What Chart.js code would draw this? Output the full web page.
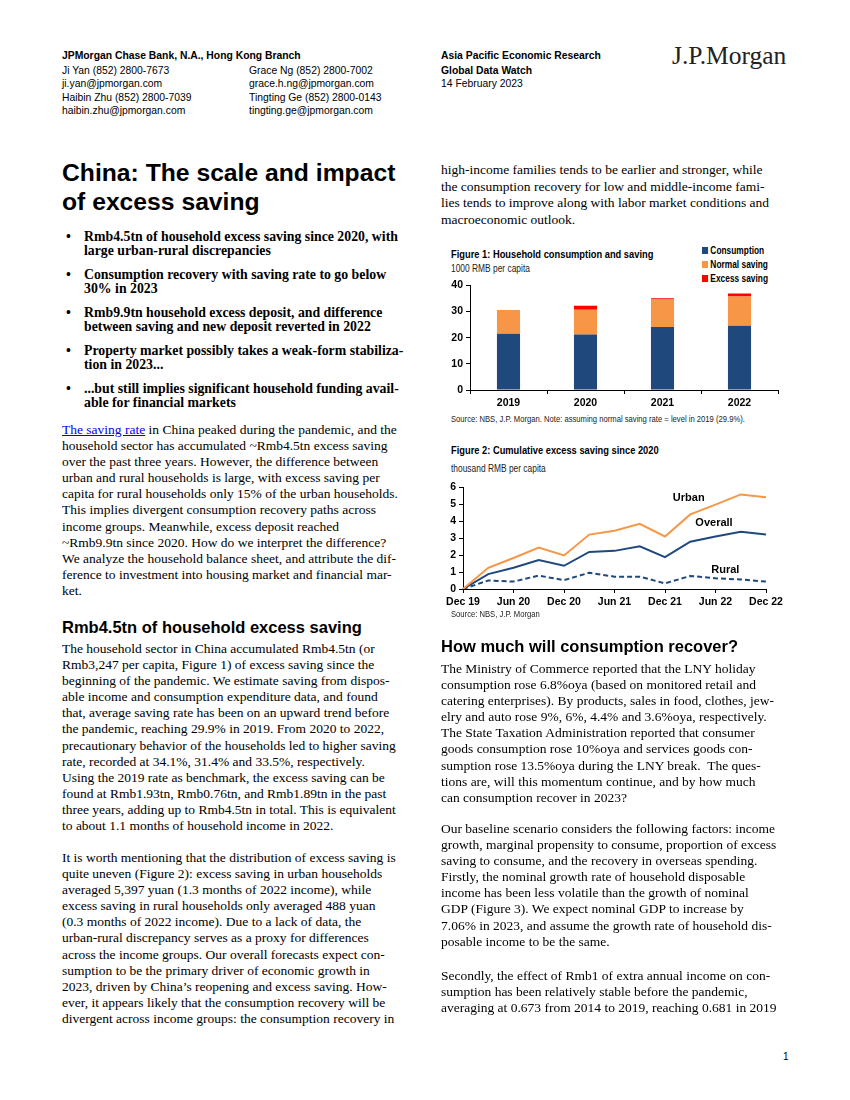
<!DOCTYPE html>
<html>
<head>
<meta charset="utf-8">
<script src="https://cdn.jsdelivr.net/npm/chart.js@4.4.1/dist/chart.umd.min.js"></script>
<style>
  body { margin: 0; width: 850px; height: 1100px; background: #fff; position: relative; overflow: hidden;
         font-family: "Liberation Serif", "Times New Roman", serif; color: #000; }
  .a { position: absolute; white-space: nowrap; }
  .sans { font-family: "Liberation Sans", Arial, sans-serif; transform-origin: 0 0; }
  .hd { font-size: 11.5px; line-height: 13px; transform: scaleX(0.9); }
  .b { font-weight: bold; }
  .title { font-family: "Liberation Sans", Arial, sans-serif; font-weight: bold; font-size: 24.7px; line-height: 28.5px; }
  .bul { font-weight: bold; font-size: 13.8px; line-height: 14.4px; }
  .bul span.dot { position: absolute; left: -18px; }
  .p { font-size: 13.5px; line-height: 16.1px; }
  .h2 { font-family: "Liberation Sans", Arial, sans-serif; font-weight: bold; font-size: 16.5px; line-height: 20px; }
  .ftitle { font-weight: bold; font-size: 11.5px; line-height: 14px; transform: scaleX(0.81); }
  .fsub { font-size: 10.5px; line-height: 13px; color: #222; transform: scaleX(0.8); }
  .src { font-size: 9px; line-height: 11px; color: #222; transform: scaleX(0.85); }
  a { color: #0000ee; }
  .chartbox { position: absolute; }
  #legend1 { position: absolute; left: 702px; top: 243px; font-weight: bold; font-size: 11px; line-height: 14px; transform: scaleX(0.76); }
  #legend1 div { white-space: nowrap; }
  #legend1 i { display: inline-block; width: 8px; height: 7px; margin-right: 3px; vertical-align: 0px; }
</style>
</head>
<body>

<!-- header -->
<div class="a sans hd b" style="left:62px;top:49px">JPMorgan Chase Bank, N.A., Hong Kong Branch</div>
<div class="a sans hd" style="left:62px;top:64px">Ji Yan (852) 2800-7673</div>
<div class="a sans hd" style="left:62px;top:77px">ji.yan@jpmorgan.com</div>
<div class="a sans hd" style="left:62px;top:91px">Haibin Zhu (852) 2800-7039</div>
<div class="a sans hd" style="left:62px;top:104px">haibin.zhu@jpmorgan.com</div>
<div class="a sans hd" style="left:249px;top:64px">Grace Ng (852) 2800-7002</div>
<div class="a sans hd" style="left:249px;top:77px">grace.h.ng@jpmorgan.com</div>
<div class="a sans hd" style="left:249px;top:91px">Tingting Ge (852) 2800-0143</div>
<div class="a sans hd" style="left:249px;top:104px">tingting.ge@jpmorgan.com</div>
<div class="a sans hd b" style="left:441px;top:49px">Asia Pacific Economic Research</div>
<div class="a sans hd b" style="left:441px;top:64px">Global Data Watch</div>
<div class="a sans hd" style="left:441px;top:77px">14 February 2023</div>
<div class="a" style="left:672px;top:41px;font-size:25.5px;line-height:30px;color:#222">J.P.Morgan</div>

<!-- left column -->
<div class="a title" style="left:62px;top:159px">China: The scale and impact<br>of excess saving</div>

<div class="a bul" style="left:84px;top:230px"><span class="dot">&#8226;</span>Rmb4.5tn of household excess saving since 2020, with<br>large urban-rural discrepancies</div>
<div class="a bul" style="left:84px;top:268px"><span class="dot">&#8226;</span>Consumption recovery with saving rate to go below<br>30% in 2023</div>
<div class="a bul" style="left:84px;top:306px"><span class="dot">&#8226;</span>Rmb9.9tn household excess deposit, and difference<br>between saving and new deposit reverted in 2022</div>
<div class="a bul" style="left:84px;top:344px"><span class="dot">&#8226;</span>Property market possibly takes a weak-form stabiliza-<br>tion in 2023...</div>
<div class="a bul" style="left:84px;top:382px"><span class="dot">&#8226;</span>...but still implies significant household funding avail-<br>able for financial markets</div>

<div class="a p" style="left:62px;top:422px"><a href="#">The saving rate</a> in China peaked during the pandemic, and the<br>household sector has accumulated ~Rmb4.5tn excess saving<br>over the past three years. However, the difference between<br>urban and rural households is large, with excess saving per<br>capita for rural households only 15% of the urban households.<br>This implies divergent consumption recovery paths across<br>income groups. Meanwhile, excess deposit reached<br>~Rmb9.9tn since 2020. How do we interpret the difference?<br>We analyze the household balance sheet, and attribute the dif-<br>ference to investment into housing market and financial mar-<br>ket.</div>

<div class="a h2" style="left:62px;top:617px">Rmb4.5tn of household excess saving</div>

<div class="a p" style="left:62px;top:641px">The household sector in China accumulated Rmb4.5tn (or<br>Rmb3,247 per capita, Figure 1) of excess saving since the<br>beginning of the pandemic. We estimate saving from dispos-<br>able income and consumption expenditure data, and found<br>that, average saving rate has been on an upward trend before<br>the pandemic, reaching 29.9% in 2019. From 2020 to 2022,<br>precautionary behavior of the households led to higher saving<br>rate, recorded at 34.1%, 31.4% and 33.5%, respectively.<br>Using the 2019 rate as benchmark, the excess saving can be<br>found at Rmb1.93tn, Rmb0.76tn, and Rmb1.89tn in the past<br>three years, adding up to Rmb4.5tn in total. This is equivalent<br>to about 1.1 months of household income in 2022.</div>

<div class="a p" style="left:62px;top:850px">It is worth mentioning that the distribution of excess saving is<br>quite uneven (Figure 2): excess saving in urban households<br>averaged 5,397 yuan (1.3 months of 2022 income), while<br>excess saving in rural households only averaged 488 yuan<br>(0.3 months of 2022 income). Due to a lack of data, the<br>urban-rural discrepancy serves as a proxy for differences<br>across the income groups. Our overall forecasts expect con-<br>sumption to be the primary driver of economic growth in<br>2023, driven by China&#8217;s reopening and excess saving. How-<br>ever, it appears likely that the consumption recovery will be<br>divergent across income groups: the consumption recovery in</div>

<!-- right column -->
<div class="a p" style="left:441px;top:162px;line-height:16.6px">high-income families tends to be earlier and stronger, while<br>the consumption recovery for low and middle-income fami-<br>lies tends to improve along with labor market conditions and<br>macroeconomic outlook.</div>

<div class="a sans ftitle" style="left:451px;top:247px">Figure 1: Household consumption and saving</div>
<div class="a sans fsub" style="left:451px;top:262px">1000 RMB per capita</div>
<div id="legend1" class="sans"></div>
<div class="chartbox" style="left:440px;top:276px;width:350px;height:136px"><canvas id="fig1"></canvas></div>
<div class="a sans src" style="left:451px;top:414px">Source: NBS, J.P. Morgan. Note: assuming normal saving rate = level in 2019 (29.9%).</div>

<div class="a sans ftitle" style="left:451px;top:443px">Figure 2: Cumulative excess saving since 2020</div>
<div class="a sans fsub" style="left:451px;top:462px">thousand RMB per capita</div>
<div class="chartbox" style="left:440px;top:478px;width:350px;height:133px"><canvas id="fig2"></canvas></div>
<div class="a sans src" style="left:451px;top:609px">Source: NBS, J.P. Morgan</div>

<div class="a h2" style="left:441px;top:636px">How much will consumption recover?</div>

<div class="a p" style="left:441px;top:661px">The Ministry of Commerce reported that the LNY holiday<br>consumption rose 6.8%oya (based on monitored retail and<br>catering enterprises). By products, sales in food, clothes, jew-<br>elry and auto rose 9%, 6%, 4.4% and 3.6%oya, respectively.<br>The State Taxation Administration reported that consumer<br>goods consumption rose 10%oya and services goods con-<br>sumption rose 13.5%oya during the LNY break.&nbsp; The ques-<br>tions are, will this momentum continue, and by how much<br>can consumption recover in 2023?</div>

<div class="a p" style="left:441px;top:821px">Our baseline scenario considers the following factors: income<br>growth, marginal propensity to consume, proportion of excess<br>saving to consume, and the recovery in overseas spending.<br>Firstly, the nominal growth rate of household disposable<br>income has been less volatile than the growth of nominal<br>GDP (Figure 3). We expect nominal GDP to increase by<br>7.06% in 2023, and assume the growth rate of household dis-<br>posable income to be the same.</div>

<div class="a p" style="left:441px;top:968px">Secondly, the effect of Rmb1 of extra annual income on con-<br>sumption has been relatively stable before the pandemic,<br>averaging at 0.673 from 2014 to 2019, reaching 0.681 in 2019</div>

<div class="a sans" style="left:783px;top:1051px;font-size:10px">1</div>

<script>
// Figure 1: household consumption and saving (1000 RMB per capita)
const years = ["2019", "2020", "2021", "2022"];
const consumption = [21.5, 21.2, 24.1, 24.5];
const normalSaving = [9.1, 9.5, 10.5, 11.2];
const excessSaving = [0, 1.5, 0.5, 1.2];
const fig1Ticks = [0, 10, 20, 30, 40];

// Figure 2: cumulative excess saving since 2020 (thousand RMB per capita), quarterly
const quarters = ["Dec 19", "Mar 20", "Jun 20", "Sep 20", "Dec 20", "Mar 21", "Jun 21",
                  "Sep 21", "Dec 21", "Mar 22", "Jun 22", "Sep 22", "Dec 22"];
const urban   = [0, 1.25, 1.83, 2.44, 1.98, 3.21, 3.44, 3.85, 3.10, 4.40, 4.98, 5.58, 5.42];
const overall = [0, 0.88, 1.25, 1.71, 1.37, 2.19, 2.25, 2.52, 1.88, 2.79, 3.10, 3.38, 3.21];
const rural   = [0, 0.50, 0.44, 0.79, 0.52, 0.96, 0.73, 0.73, 0.33, 0.77, 0.63, 0.56, 0.44];
const fig2Ticks = [0, 1, 2, 3, 4, 5, 6];

const NAVY = "#1F497D";
const ORANGE = "#F79646";
const RED = "#FF0000";
const SANS = '"Liberation Sans", Arial, sans-serif';
const tickFont = { family: SANS, size: 10.5, weight: "bold" };

Chart.defaults.color = "#000";
Chart.defaults.animation = false;

const chart1 = new Chart(document.getElementById("fig1"), {
  type: "bar",
  data: {
    labels: years,
    datasets: [
      { label: "Consumption", data: consumption, backgroundColor: NAVY },
      { label: "Normal saving", data: normalSaving, backgroundColor: ORANGE },
      { label: "Excess saving", data: excessSaving, backgroundColor: RED },
    ],
  },
  options: {
    responsive: true,
    maintainAspectRatio: false,
    devicePixelRatio: 1,
    layout: { padding: { top: 6, right: 12, left: 0, bottom: 0 } },
    plugins: { legend: { display: false }, tooltip: { enabled: false } },
    datasets: { bar: { categoryPercentage: 1, barPercentage: 0.3 } },
    scales: {
      x: {
        stacked: true,
        border: { color: "#000", width: 1 },
        grid: { offset: true, drawOnChartArea: false, color: "#000", tickLength: 4 },
        ticks: { font: tickFont, padding: 3 },
        afterFit: (s) => { s.height = 22; },
      },
      y: {
        stacked: true,
        min: 0,
        max: 40,
        border: { color: "#000", width: 1 },
        grid: { drawOnChartArea: false, color: "#000", tickLength: 4 },
        afterBuildTicks: (s) => { s.ticks = fig1Ticks.map((v) => ({ value: v })); },
        ticks: { font: tickFont, padding: 3 },
        afterFit: (s) => { s.width = 30; },
      },
    },
  },
});

// html legend built from the datasets
const legend1 = document.getElementById("legend1");
chart1.data.datasets.forEach((ds) => {
  const row = document.createElement("div");
  row.innerHTML = '<i style="background:' + ds.backgroundColor + '"></i>' + ds.label;
  legend1.appendChild(row);
});

// series names written next to the lines, placed in data units
const lineLabels = [
  { text: "Urban", x: 8.94, y: 5.35 },
  { text: "Overall", x: 9.94, y: 3.87 },
  { text: "Rural", x: 10.39, y: 1.14 },
];
const lineLabelPlugin = {
  id: "lineLabels",
  afterDatasetsDraw(chart) {
    const ctx = chart.ctx;
    const xs = chart.scales.x, ys = chart.scales.y;
    ctx.save();
    ctx.font = "bold 11px " + SANS;
    ctx.fillStyle = "#000";
    ctx.textAlign = "center";
    ctx.textBaseline = "middle";
    lineLabels.forEach((l) => {
      ctx.fillText(l.text, xs.getPixelForValue(l.x), ys.getPixelForValue(l.y));
    });
    ctx.restore();
  },
};

const chart2 = new Chart(document.getElementById("fig2"), {
  type: "line",
  data: {
    labels: quarters,
    datasets: [
      { label: "Urban", data: urban, borderColor: ORANGE, borderWidth: 2 },
      { label: "Overall", data: overall, borderColor: NAVY, borderWidth: 2 },
      { label: "Rural", data: rural, borderColor: NAVY, borderWidth: 2, borderDash: [5, 3] },
    ],
  },
  options: {
    responsive: true,
    maintainAspectRatio: false,
    devicePixelRatio: 1,
    layout: { padding: { top: 7, right: 24, left: 0, bottom: 0 } },
    elements: { point: { radius: 0 }, line: { tension: 0 } },
    plugins: { legend: { display: false }, tooltip: { enabled: false } },
    scales: {
      x: {
        border: { color: "#000", width: 1 },
        grid: {
          drawOnChartArea: false,
          tickLength: 4,
          tickColor: (c) => (c.index % 2 === 0 ? "#000" : "rgba(0,0,0,0)"),
        },
        ticks: {
          font: tickFont,
          padding: 3,
          autoSkip: false,
          maxRotation: 0,
          callback: (v, i) => (i % 2 === 0 ? quarters[i] : ""),
        },
        afterFit: (s) => { s.height = 22; },
      },
      y: {
        min: 0,
        max: 6,
        border: { color: "#000", width: 1 },
        grid: { drawOnChartArea: false, color: "#000", tickLength: 4 },
        afterBuildTicks: (s) => { s.ticks = fig2Ticks.map((v) => ({ value: v })); },
        ticks: { font: tickFont, padding: 3 },
        afterFit: (s) => { s.width = 23; },
      },
    },
  },
  plugins: [lineLabelPlugin],
});
</script>
</body>
</html>
